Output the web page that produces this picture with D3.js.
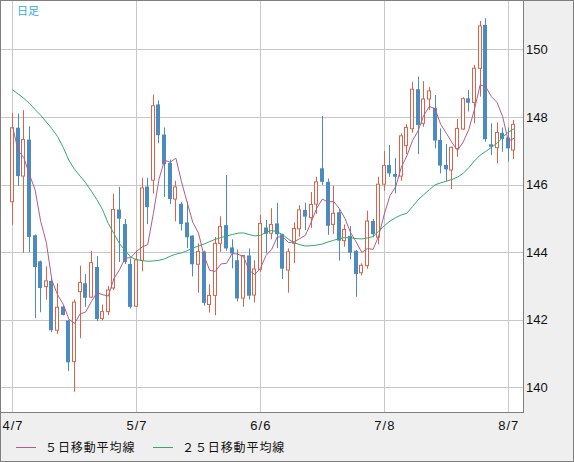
<!DOCTYPE html>
<html>
<head>
<meta charset="utf-8">
<script src="https://cdn.jsdelivr.net/npm/d3@7"></script>
<style>
    body { margin: 0; background: #efefef; }
    svg { display: block; }
</style>
</head>
<body>
<div class="box"></div>
<script>
const opens  = [145.49,147.68,146.25,147.33,144.50,143.73,142.98,143.15,141.69,142.39,141.98,140.76,142.83,143.08,142.67,143.56,142.04,142.24,142.94,145.26,144.83,143.65,142.40,143.76,145.94,146.13,148.37,147.48,146.64,145.57,145.43,144.88,144.49,143.64,144.02,142.45,142.72,144.26,144.80,144.14,143.76,142.64,143.90,142.73,143.49,144.73,144.56,144.85,144.53,143.47,144.26,144.69,145.25,145.02,145.42,146.48,146.08,144.82,145.18,144.34,144.48,144.04,143.39,143.60,144.92,144.44,146.01,146.58,146.31,146.25,147.15,147.65,148.82,147.81,148.53,148.27,147.32,146.58,146.43,147.07,147.64,148.55,148.43,149.44,150.72,147.19,147.09,147.53,147.39,147.02]
const highs  = [148.12,148.10,148.20,147.72,144.52,143.75,143.58,143.25,143.08,142.41,142.00,142.60,143.60,143.35,144.04,143.88,142.45,143.00,145.73,145.93,144.98,143.81,144.05,146.19,146.20,148.66,148.49,147.69,146.74,146.11,145.48,145.50,144.50,144.26,144.04,143.05,144.45,145.06,146.28,144.38,144.08,143.91,144.11,143.76,145.10,144.95,145.30,145.46,144.55,144.11,144.88,145.39,145.46,145.78,146.23,148.03,146.18,145.96,145.28,144.82,144.77,144.06,143.67,145.23,144.98,146.23,146.99,147.17,146.78,147.51,147.79,149.04,149.19,149.06,148.88,148.65,147.66,147.20,147.12,147.94,148.58,148.80,149.54,150.84,150.92,147.81,147.84,147.69,147.69,147.91]
const lows   = [144.81,145.96,143.98,144.00,142.05,142.22,142.59,141.63,141.58,142.13,140.48,139.87,141.45,142.38,142.65,141.96,141.98,142.14,142.88,143.71,143.65,142.33,142.38,143.43,144.83,145.73,147.22,145.63,145.42,144.91,144.64,144.12,143.28,142.80,142.42,142.21,142.13,144.01,144.04,143.52,142.54,142.38,142.60,142.51,143.42,143.96,144.38,144.12,143.20,142.80,143.67,144.46,144.65,144.72,145.13,145.99,144.51,144.54,143.75,144.16,143.79,142.68,143.31,143.51,144.44,144.23,145.82,146.23,145.74,146.11,146.90,147.53,146.90,147.71,148.21,147.07,146.33,146.10,145.86,146.82,147.61,148.16,147.81,148.60,147.27,146.87,146.63,146.97,146.68,146.75]
const closes = [147.68,146.25,147.33,144.45,143.56,142.94,143.15,141.69,142.37,142.14,140.74,142.52,143.10,142.65,143.69,142.02,142.24,142.88,145.26,144.99,143.71,142.38,143.77,145.90,145.33,148.33,147.46,146.60,145.57,145.93,144.83,144.44,143.64,144.02,142.50,142.72,144.26,144.76,144.11,143.96,142.63,143.90,142.71,143.50,144.85,144.54,144.82,144.53,143.51,144.01,144.70,145.25,145.05,145.41,146.08,146.08,144.78,145.15,144.34,144.67,143.98,143.35,143.61,144.92,144.53,146.01,146.56,146.33,146.23,147.44,147.69,148.82,147.76,148.53,148.77,147.30,146.56,146.45,147.10,147.66,148.54,148.42,149.44,150.69,147.34,147.12,147.54,147.35,147.07,147.78]

// 5日 / 25日 moving average lines
const ma5  = [147.72,147.00,146.80,146.30,145.85,144.91,144.29,143.16,142.74,142.46,142.02,141.89,142.17,142.23,142.54,142.80,142.74,142.70,143.22,143.48,143.82,143.84,144.02,144.15,144.22,145.14,146.16,146.72,146.66,146.78,146.08,145.47,144.88,144.57,143.89,143.46,143.43,143.65,143.67,143.96,143.94,143.87,143.46,143.34,143.52,143.90,144.08,144.45,144.45,144.28,144.31,144.40,144.50,144.88,145.30,145.57,145.48,145.50,145.29,145.00,144.58,144.30,143.99,144.11,144.08,144.48,145.13,145.67,145.93,146.51,146.85,147.30,147.59,148.05,148.31,148.24,147.78,147.52,147.24,147.01,147.26,147.63,148.23,148.95,148.89,148.60,148.43,148.01,147.28,147.37]
const ma25 = [148.80,148.68,148.55,148.40,148.22,148.05,147.85,147.65,147.42,147.10,146.72,146.45,146.25,146.05,145.80,145.55,145.25,144.85,144.55,144.25,144.05,143.85,143.78,143.75,143.73,143.74,143.76,143.80,143.88,143.94,143.98,144.04,144.12,144.18,144.24,144.31,144.38,144.43,144.48,144.52,144.56,144.57,144.52,144.48,144.50,144.58,144.64,144.60,144.51,144.38,144.28,144.22,144.18,144.19,144.21,144.24,144.30,144.35,144.40,144.43,144.42,144.40,144.39,144.42,144.46,144.62,144.78,144.92,145.02,145.10,145.15,145.35,145.55,145.70,145.85,145.99,146.05,146.10,146.15,146.22,146.33,146.50,146.70,146.87,146.98,147.10,147.22,147.40,147.55,147.65]

const tickIdx    = [0, 22, 44, 66, 88]
const tickLabels = ['4/7', '5/7', '6/6', '7/8', '8/7']
const yTicks     = [140, 142, 144, 146, 148, 150]
const legendNames = ['５日移動平均線', '２５日移動平均線']

const boxWidth = 574
const boxHeight = 462
const plotRight = 523
const plotBottom = 412

const upColor = '#db6448'
const downColor = '#4b8bbf'
const ma5Color = '#b35c88'
const ma25Color = '#2eac6c'

const x = d3.scaleLinear().domain([0, 88]).range([12.5, 508.3])
const y = d3.scaleLinear().domain([140, 150]).range([387.33, 49.33])

const svg = d3.select('.box')
              .append('svg')
              .attr('width', boxWidth)
              .attr('height', boxHeight)

svg.append('rect')
   .attr('x', 0).attr('y', 0)
   .attr('width', boxWidth).attr('height', boxHeight)
   .attr('fill', '#efefef')

svg.append('rect')
   .attr('x', 0.5).attr('y', 0.5)
   .attr('width', plotRight).attr('height', plotBottom)
   .attr('fill', '#ffffff')

// grid
svg.append('g')
   .selectAll('line')
   .data(yTicks).enter()
   .append('line')
   .attr('x1', 1).attr('x2', plotRight)
   .attr('y1', d => Math.round(y(d)) + 0.5)
   .attr('y2', d => Math.round(y(d)) + 0.5)
   .attr('stroke', '#c8c8c8')

svg.append('g')
   .selectAll('line')
   .data(tickIdx).enter()
   .append('line')
   .attr('x1', d => Math.floor(x(d)) + 0.5)
   .attr('x2', d => Math.floor(x(d)) + 0.5)
   .attr('y1', 1).attr('y2', plotBottom)
   .attr('stroke', '#c8c8c8')

// candles
const candles = svg.append('g')
                   .selectAll('g')
                   .data(closes).enter()
                   .append('g')

candles.append('line')
       .attr('x1', (d, i) => Math.floor(x(i)) + 0.5)
       .attr('x2', (d, i) => Math.floor(x(i)) + 0.5)
       .attr('y1', (d, i) => y(highs[i]))
       .attr('y2', (d, i) => y(lows[i]))
       .attr('stroke', (d, i) => d >= opens[i] ? upColor : downColor)

candles.append('rect')
       .attr('x', (d, i) => Math.floor(x(i)) - (d >= opens[i] ? 1.5 : 2))
       .attr('width', (d, i) => d >= opens[i] ? 3 : 4)
       .attr('y', (d, i) => y(Math.max(d, opens[i])))
       .attr('height', (d, i) => Math.max(1, Math.abs(y(d) - y(opens[i]))))
       .attr('fill', (d, i) => d >= opens[i] ? '#ffffff' : downColor)
       .attr('stroke', (d, i) => d >= opens[i] ? upColor : 'none')

// moving averages
const line = d3.line().x((d, i) => x(i)).y(d => y(d))

svg.append('path')
   .attr('d', line(ma25))
   .attr('fill', 'none')
   .attr('stroke', ma25Color)

svg.append('path')
   .attr('d', line(ma5))
   .attr('fill', 'none')
   .attr('stroke', ma5Color)

// axes
const yAxis = svg.append('g')
                 .attr('transform', `translate(${plotRight}, 0)`)
                 .call(d3.axisRight(y).tickValues(yTicks).tickSize(0).tickPadding(3))
yAxis.select('.domain').remove()
yAxis.selectAll('text')
     .attr('fill', '#111')
     .style('font', '13px "Liberation Sans", sans-serif')

const xAxis = svg.append('g')
                 .attr('transform', `translate(0, ${plotBottom})`)
                 .call(d3.axisBottom(x).tickValues(tickIdx).tickFormat((d, i) => tickLabels[i]).tickSize(0).tickPadding(9))
xAxis.select('.domain').remove()
xAxis.selectAll('text')
     .attr('fill', '#111')
     .style('font', '13px "Liberation Sans", sans-serif')
     .style('letter-spacing', '1px')

// frames
svg.append('rect')
   .attr('x', 0.5).attr('y', 0.5)
   .attr('width', plotRight).attr('height', plotBottom)
   .attr('fill', 'none')
   .attr('stroke', '#7f7f7f')

svg.append('rect')
   .attr('x', 0.5).attr('y', 0.5)
   .attr('width', boxWidth - 1).attr('height', boxHeight - 1)
   .attr('fill', 'none')
   .attr('stroke', '#7f7f7f')

svg.append('text')
   .attr('x', 17).attr('y', 15)
   .attr('fill', '#33aadd')
   .style('font', '11px "Noto Sans CJK JP", sans-serif')
   .text('日足')

// legend
const legendX = [16, 153]
const legendColors = [ma5Color, ma25Color]
const legend = svg.append('g')
                  .selectAll('g')
                  .data(legendNames).enter()
                  .append('g')
                  .attr('transform', (d, i) => `translate(${legendX[i]}, 0)`)

legend.append('line')
      .attr('x1', 0).attr('x2', 20)
      .attr('y1', 447.5).attr('y2', 447.5)
      .attr('stroke', (d, i) => legendColors[i])

legend.append('text')
      .attr('x', 29).attr('y', 452)
      .attr('fill', '#111')
      .style('font', '12px "Noto Sans CJK JP", sans-serif')
      .style('letter-spacing', '0.9px')
      .text(d => d)
</script>
</body>
</html>
